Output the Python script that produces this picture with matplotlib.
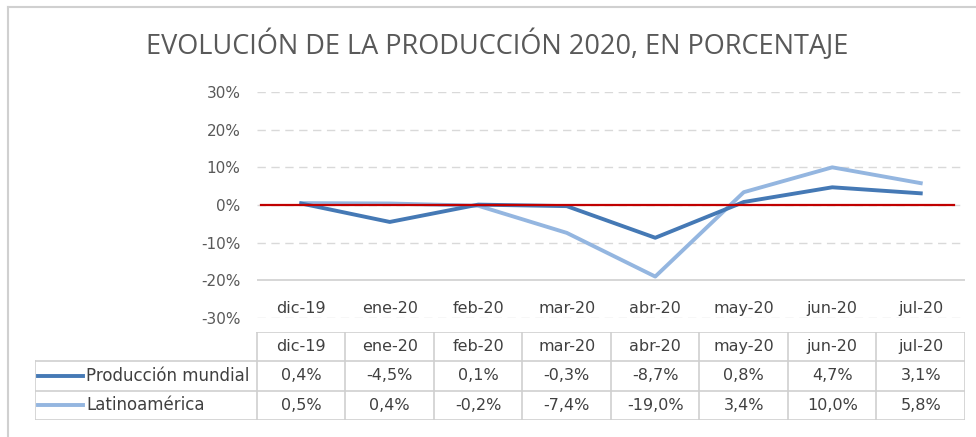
import numpy as np
import matplotlib.pyplot as plt
from matplotlib.lines import Line2D

# Datos
meses = ['dic-19', 'ene-20', 'feb-20', 'mar-20', 'abr-20', 'may-20', 'jun-20', 'jul-20']
mundial = [0.4, -4.5, 0.1, -0.3, -8.7, 0.8, 4.7, 3.1]
latam = [0.5, 0.4, -0.2, -7.4, -19.0, 3.4, 10.0, 5.8]
series = ['Producción mundial', 'Latinoamérica']
colores = ['#4579b5', '#94b6e0']

W, H = 976, 437
fig = plt.figure(figsize=(W/100, H/100), dpi=100)
fig.patch.set_facecolor('white')

# marco del grafico
fig.add_artist(Line2D([8/W, 8/W], [0, 1-7/H], color='#d0d0d0', lw=1.5))
fig.add_artist(Line2D([8/W, 1], [1-7/H, 1-7/H], color='#d0d0d0', lw=1.5))

fig.text(497/W, 1-45/H, 'EVOLUCIÓN DE LA PRODUCCIÓN 2020, EN PORCENTAJE',
         ha='center', va='center', fontsize=19.5, color='#595959', family='Open Sans')

x = np.arange(len(meses))
ax = fig.add_axes([257/W, 1-318/H, (965-257)/W, (318-92)/H])
ax.set_xlim(-0.5, 7.5)
ax.set_ylim(-30, 30)
for s in ax.spines.values():
    s.set_visible(False)
ax.set_xticks([])
ax.set_yticks(np.arange(-30, 31, 10))
ax.set_yticklabels([f'{v}%' for v in range(-30, 31, 10)], fontsize=11, color='#595959')
ax.tick_params(axis='y', length=0, pad=12)
for v in range(-30, 31, 10):
    if v == -20:
        ax.axhline(v, color='#d0d0d0', lw=1.2)
    else:
        ax.axhline(v, color='#d9d9d9', lw=1, ls=(0, (6, 4)))

ax.axhline(0, xmin=0.005, xmax=0.985, color='#c00000', lw=1.6, zorder=4)
ax.plot(x, latam, color=colores[1], lw=2.8, zorder=3)
ax.plot(x, mundial, color=colores[0], lw=2.8, zorder=3)

for i, m in enumerate(meses):
    ax.text(i, -27.5, m, ha='center', va='center', fontsize=11.5, color='#404040')

# tabla de datos
tab = fig.add_axes([35/W, 1-420/H, (965-35)/W, (420-332)/H])
tab.set_xlim(-3.008, 7.5)
tab.set_ylim(0, 3)
tab.axis('off')
gc = '#cfcfcf'
tab.plot([-0.5, 7.5], [3, 3], color=gc, lw=1.2)
tab.plot([-3.008, 7.5], [2, 2], color=gc, lw=1.2)
tab.plot([-3.008, 7.5], [1, 1], color=gc, lw=1.2)
tab.plot([-3.008, 7.5], [0, 0], color=gc, lw=1.2)
tab.plot([-3.008, -3.008], [0, 2], color=gc, lw=1.2)
for i in range(9):
    tab.plot([i-0.5, i-0.5], [0, 3], color=gc, lw=1.2)

for i, m in enumerate(meses):
    tab.text(i, 2.5, m, ha='center', va='center', fontsize=11.5, color='#404040')
    tab.text(i, 1.5, f'{mundial[i]:.1f}%'.replace('.', ','), ha='center', va='center',
             fontsize=11.5, color='#404040')
    tab.text(i, 0.5, f'{latam[i]:.1f}%'.replace('.', ','), ha='center', va='center',
             fontsize=11.5, color='#404040')

for k, (nom, col) in enumerate(zip(series, colores)):
    yy = 1.5 - k
    tab.plot([-2.97, -2.47], [yy, yy], color=col, lw=2.8)
    tab.text(-2.43, yy, nom, ha='left', va='center', fontsize=12, color='#404040')

fig.savefig('out.png', dpi=100)
